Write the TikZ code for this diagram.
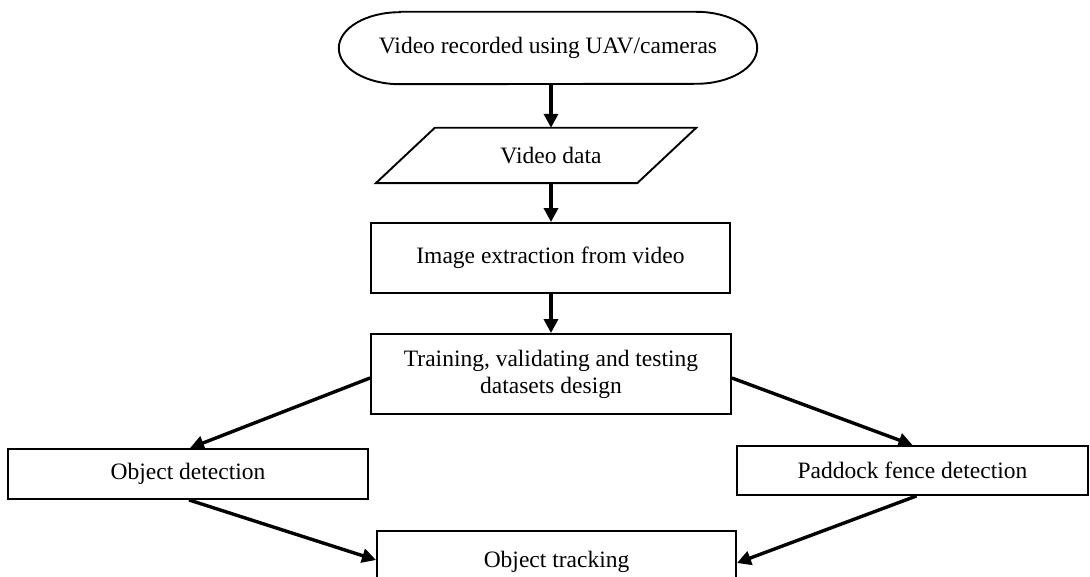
\documentclass[tikz,border=0pt]{standalone}
\usepackage{fontspec}
\setmainfont{Liberation Serif}
\usetikzlibrary{arrows.meta}
\begin{document}
\begin{tikzpicture}[x=1pt,y=-1pt,
  box/.style={draw=black,line width=1.9pt,minimum width=#1,inner sep=0pt,align=center},
  lbl/.style={font=\fontsize{23.5}{27}\selectfont},
  arr/.style={line width=3.4pt,-{Triangle[length=14pt,width=14pt]}}]
\useasboundingbox (0,0) rectangle (1090,577);
\clip (0,0) rectangle (1090,577);
% start (stadium)
\node[lbl,minimum width=418pt,minimum height=72pt,inner sep=0pt] (start) at (548,48) {Video recorded using UAV/cameras};
\draw[line width=1.9pt] ([xshift=61pt]start.north west) -- ([xshift=-61pt]start.north east)
  arc[start angle=90,end angle=-90,x radius=61pt,y radius=36pt]
  -- ([xshift=61pt]start.south west)
  arc[start angle=270,end angle=90,x radius=61pt,y radius=36pt] -- cycle;
% video data (parallelogram)
\node[lbl,minimum width=231pt,minimum height=55pt,inner sep=0pt] (vd) at (551,155.5) {Video data};
\draw[line width=1.9pt] ([xshift=-0.5pt]vd.north west) -- ([xshift=29.5pt]vd.north east)
  -- ([xshift=-29.5pt]vd.south east) -- ([xshift=-59.5pt]vd.south west) -- cycle;
% boxes
\node[box=359pt,lbl,minimum height=70pt] (imgx) at (550.5,258) {Image extraction from video};
\node[box=360pt,lbl,minimum height=80pt] (train) at (551,374) {Training, validating and testing\\datasets design};
\node[box=360pt,lbl,minimum height=50pt] (objdet) at (188,474) {Object detection};
\node[box=351pt,lbl,minimum height=49pt] (paddock) at (912.5,470.5) {Paddock fence detection};
\node[box=359pt,minimum height=58pt,inner sep=0pt] (track) at (556.5,560) {};
\node[lbl,anchor=center] (tracktxt) at ([yshift=-2pt]track.center) {Object tracking};
% arrows
\draw[arr] (vd.north |- start.south) -- (vd.north);
\draw[arr] (vd.south) -- (vd.south |- imgx.north);
\draw[arr] (imgx.south -| vd.south) -- (train.north);
\draw[arr] ([yshift=-4pt]train.west) -- ([xshift=2pt]objdet.north);
\draw[arr] ([yshift=-4pt]train.east) -- (paddock.north);
\draw[arr] ([xshift=1pt]objdet.south) -- (track.west);
\draw[arr] ([xshift=4pt]paddock.south) -- ([yshift=-3pt]track.east);
\end{tikzpicture}
\end{document}
